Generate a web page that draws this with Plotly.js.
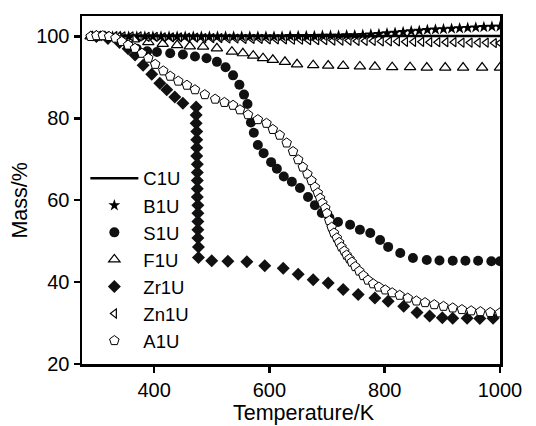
<!DOCTYPE html>
<html>
<head>
<meta charset="utf-8">
<script src="https://cdn.plot.ly/plotly-3.0.1.min.js"></script>
<style>html,body{margin:0;padding:0;background:#fff}#chart{width:536px;height:426px}</style>
</head>
<body>
<div id="chart"></div>
<script>
// C1U (solid line)
var c1uX = [290, 400, 500, 600, 700, 800, 900, 1000];
var c1uY = [100.1, 100.1, 100.1, 100.1, 100.1, 100.1, 100.1, 100.1];

// B1U (stars)
var b1uX = [300, 314, 328, 342, 356, 370, 384, 398, 412, 426, 440, 454, 468, 482, 496, 510, 524, 538, 552, 566, 580, 594, 608, 622, 636, 650, 664, 678, 692, 706, 720, 734, 748, 762, 776, 790, 804, 818, 832, 846, 860, 874, 888, 902, 916, 930, 944, 958, 972, 986, 1000];
var b1uY = [100.0, 100.0, 100.0, 100.0, 100.0, 100.0, 100.0, 100.0, 100.0, 100.0, 100.0, 100.0, 100.0, 100.0, 100.0, 100.0, 100.0, 100.0, 100.0, 100.0, 100.0, 100.0, 100.0, 100.0, 100.1, 100.1, 100.1, 100.1, 100.2, 100.2, 100.2, 100.3, 100.3, 100.4, 100.5, 100.6, 100.8, 100.9, 101.1, 101.3, 101.4, 101.6, 101.7, 101.8, 101.9, 102.0, 102.1, 102.2, 102.3, 102.4, 102.4];

// S1U (filled circles)
var s1uX = [300, 320, 340, 355, 370, 388, 405, 428, 450, 471, 491, 509, 524, 537, 548, 556, 562, 568, 573, 580, 590, 603, 613, 625, 639, 653, 667, 679, 691, 704, 719, 740, 757, 775, 792, 806, 827, 849, 873, 895, 918, 940, 962, 985, 1000];
var s1uY = [100.0, 99.8, 99.0, 98.0, 97.0, 96.4, 96.2, 95.9, 95.6, 95.1, 94.7, 93.8, 92.5, 90.5, 88.2, 85.8, 83.5, 79.0, 76.5, 73.5, 71.5, 69.3, 67.7, 65.8, 64.5, 63.0, 60.8, 58.8, 56.9, 55.8, 54.7, 54.0, 52.8, 52.0, 50.3, 48.6, 47.1, 45.9, 45.4, 45.3, 45.2, 45.2, 45.2, 45.1, 45.1];

// F1U (open triangles)
var f1uX = [290, 315, 340, 365, 390, 415, 440, 462, 485, 509, 535, 554, 572, 589, 606, 627, 648, 676, 702, 728, 757, 783, 813, 844, 873, 905, 936, 969, 1000];
var f1uY = [100.0, 100.0, 99.8, 99.3, 98.6, 98.2, 97.9, 97.6, 97.5, 97.1, 96.3, 95.9, 95.3, 94.7, 94.3, 93.8, 93.2, 93.0, 92.9, 92.8, 92.7, 92.6, 92.5, 92.5, 92.4, 92.4, 92.4, 92.4, 92.4];

// Zr1U (filled diamonds)
var zr1uX = [300, 320, 340, 355, 367, 381, 396, 410, 422, 436, 450, 473, 473, 473, 474, 474, 474, 474, 475, 475, 475, 475, 475, 476, 476, 476, 476, 476, 477, 477, 500, 528, 561, 592, 624, 650, 676, 702, 728, 754, 783, 806, 833, 856, 878, 900, 918, 943, 965, 988];
var zr1uY = [100.0, 99.5, 98.5, 97.0, 95.5, 93.0, 90.8, 88.6, 87.0, 85.2, 83.7, 82.8, 80.8, 78.8, 76.8, 74.8, 72.8, 70.8, 68.8, 66.8, 64.8, 62.8, 60.8, 58.8, 56.8, 54.8, 52.8, 50.8, 48.6, 46.0, 45.2, 45.1, 45.0, 44.0, 43.4, 41.9, 40.6, 39.8, 38.2, 37.0, 36.1, 35.3, 34.1, 32.6, 31.7, 31.3, 31.2, 31.2, 31.1, 31.2];

// Zn1U (open left triangles)
var zn1uX = [290, 304, 318, 332, 346, 360, 374, 388, 402, 416, 430, 444, 458, 472, 486, 500, 514, 528, 542, 556, 570, 584, 598, 612, 626, 640, 654, 668, 682, 696, 710, 724, 738, 752, 766, 780, 794, 808, 822, 836, 850, 864, 878, 892, 906, 920, 934, 948, 962, 976, 990, 1000];
var zn1uY = [100.2, 100.2, 100.1, 100.1, 100.0, 100.0, 100.0, 99.9, 99.9, 99.8, 99.8, 99.8, 99.7, 99.7, 99.6, 99.6, 99.6, 99.5, 99.5, 99.4, 99.4, 99.4, 99.3, 99.3, 99.3, 99.2, 99.2, 99.1, 99.1, 99.1, 99.0, 99.0, 99.0, 98.9, 98.9, 98.9, 98.8, 98.8, 98.8, 98.7, 98.7, 98.7, 98.6, 98.6, 98.6, 98.6, 98.5, 98.5, 98.5, 98.5, 98.4, 98.4];

// A1U (open pentagons)
var a1uX = [290, 300, 311, 322, 333, 344, 355, 367, 379, 390, 402, 416, 428, 442, 457, 471, 488, 506, 522, 537, 549, 563, 580, 595, 606, 618, 630, 641, 650, 658, 666, 673, 679, 684, 688, 692, 697, 700, 704, 708, 712, 717, 721, 725, 730, 734, 739, 743, 749, 756, 763, 771, 780, 790, 801, 813, 826, 840, 855, 870, 886, 902, 918, 934, 950, 966, 983, 1000];
var a1uY = [100.0, 100.2, 100.2, 100.0, 99.6, 98.8, 97.9, 97.1, 95.9, 94.7, 93.2, 91.6, 90.3, 89.1, 88.1, 87.0, 85.8, 84.7, 83.9, 83.2, 82.1, 80.9, 79.7, 78.8, 77.3, 75.9, 74.0, 71.9, 69.9, 68.1, 66.4, 64.8, 63.2, 61.8, 60.5, 59.3, 58.1, 56.8, 55.0, 53.4, 52.0, 50.8, 49.7, 48.6, 47.6, 46.6, 45.7, 44.9, 43.8, 42.7, 41.6, 40.5, 39.6, 38.8, 38.1, 37.4, 36.8, 36.1, 35.4, 35.0, 34.5, 34.1, 33.7, 33.3, 33.0, 32.8, 32.6, 32.5];

var xTicks = [400, 600, 800, 1000];
var yTicks = [20, 40, 60, 80, 100];
var xTitle = 'Temperature/K';
var yTitle = 'Mass/%';

var traces = [
  {name: 'C1U', x: c1uX, y: c1uY, mode: 'lines', line: {color: '#000', width: 2.5}},
  {name: 'B1U', x: b1uX, y: b1uY, mode: 'markers', marker: {symbol: 'star', size: 9, color: '#000', line: {width: 0}}},
  {name: 'S1U', x: s1uX, y: s1uY, mode: 'markers', marker: {symbol: 'circle', size: 10, color: '#111', line: {width: 0}}},
  {name: 'F1U', x: f1uX, y: f1uY, mode: 'markers', marker: {symbol: 'triangle-up', size: 10, color: '#fff', line: {width: 1.2, color: '#000'}}},
  {name: 'Zr1U', x: zr1uX, y: zr1uY, mode: 'markers', marker: {symbol: 'diamond', size: 10, color: '#111', line: {width: 0}}},
  {name: 'Zn1U', x: zn1uX, y: zn1uY, mode: 'markers', marker: {symbol: 'triangle-left-open', size: 8, color: '#000', line: {width: 1.2}}},
  {name: 'A1U', x: a1uX, y: a1uY, mode: 'markers', marker: {symbol: 'pentagon', size: 10, color: '#fff', line: {width: 1, color: '#000'}}}
];

var layout = {
  width: 536, height: 426,
  margin: {l: 82, r: 36, t: 16, b: 62},
  paper_bgcolor: '#fff', plot_bgcolor: '#fff',
  font: {family: 'Liberation Sans, Arial, sans-serif', color: '#000', size: 20},
  showlegend: true,
  legend: {
    x: 0.008, y: 0.587, xanchor: 'left', yanchor: 'top',
    bgcolor: 'rgba(0,0,0,0)', borderwidth: 0,
    font: {size: 18.5, color: '#000'},
    itemwidth: 48
  },
  xaxis: {
    range: [275, 1000], tickvals: xTicks, ticktext: xTicks.map(String),
    showgrid: false, zeroline: false,
    showline: true, mirror: true, linecolor: '#000', linewidth: 2.5,
    ticks: 'outside', ticklen: 6, tickwidth: 2.5, tickcolor: '#000',
    tickfont: {size: 20}
  },
  yaxis: {
    range: [20, 105], tickvals: yTicks, ticktext: yTicks.map(String),
    showgrid: false, zeroline: false,
    showline: true, mirror: true, linecolor: '#000', linewidth: 2.5,
    ticks: 'outside', ticklen: 6, tickwidth: 2.5, tickcolor: '#000',
    tickfont: {size: 20}
  },
  annotations: [
    {text: xTitle, xref: 'paper', yref: 'paper', x: 0.531, y: -0.141, xanchor: 'center', yanchor: 'middle', showarrow: false, font: {size: 21.5}},
    {text: yTitle, xref: 'paper', yref: 'paper', x: -0.148, y: 0.47, xanchor: 'center', yanchor: 'middle', textangle: -90, showarrow: false, font: {size: 21.5}}
  ]
};

Plotly.newPlot('chart', traces, layout, {displayModeBar: false, staticPlot: true});
</script>
</body>
</html>
